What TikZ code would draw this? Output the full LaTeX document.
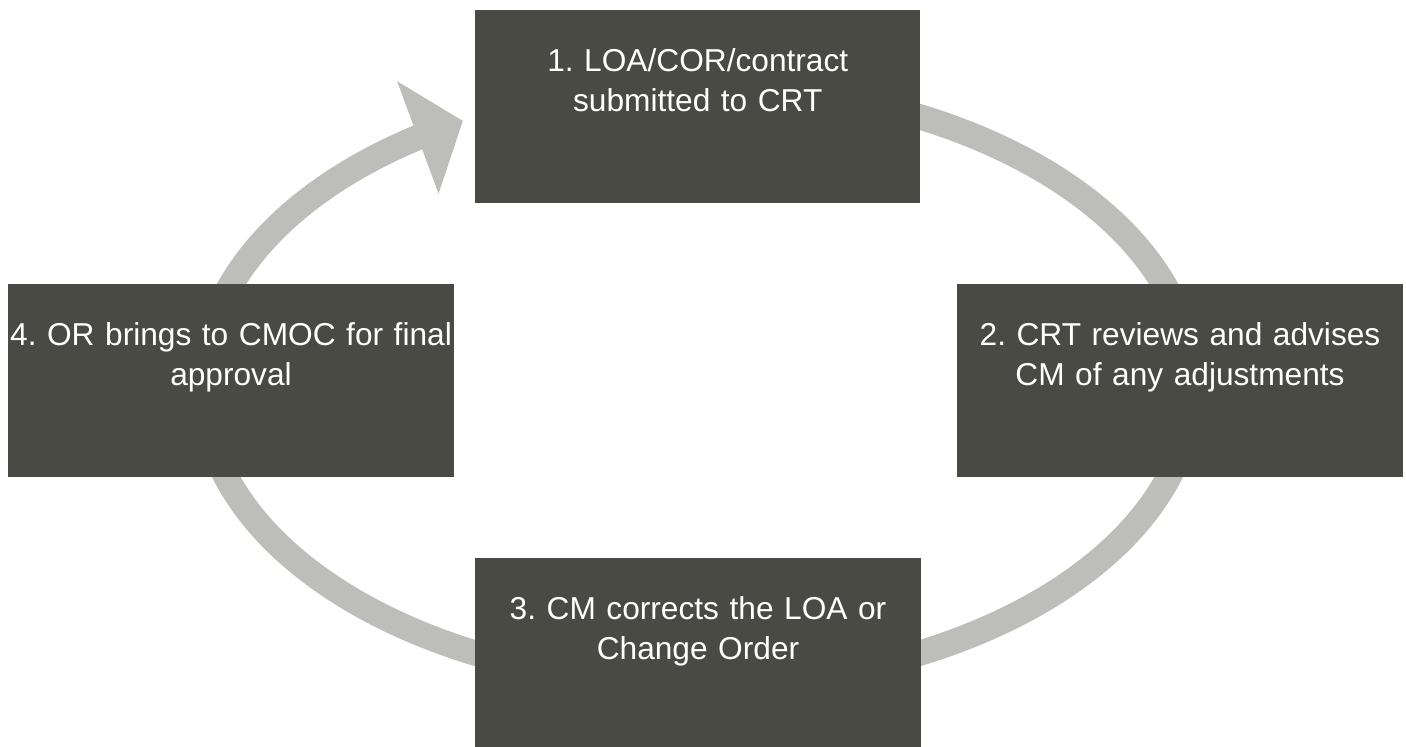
\documentclass[tikz,border=0pt]{standalone}
\usepackage{fontspec}
\setmainfont{Liberation Sans}
\usetikzlibrary{arrows.meta,bending}
\definecolor{boxgray}{RGB}{74,74,68}
\definecolor{ringgray}{RGB}{189,189,186}
\frenchspacing

\begin{document}
\begin{tikzpicture}[x=0.75pt,y=0.75pt,
  stepbox/.style={fill=boxgray,text=white,inner sep=0pt,text width=334pt,align=center,
    text height=46pt,text depth=98.75pt,font=\fontsize{23.75}{30}\selectfont},
  ring/.style={draw=ringgray,line width=19pt,-{Triangle[length=36pt,width=88pt,flex]}}]
\useasboundingbox (0,0) rectangle (1406,746);
\coordinate (hub) at (697.5,361);
\draw [ring] (hub) ++(0,300) arc [start angle=90,end angle=-241.7,x radius=495,y radius=300];
\node [stepbox] (submit) at (697.75,639.5) {1. LOA/COR/contract\\submitted to CRT};
\node [stepbox] (review) at (1180,365.5) {2. CRT reviews and advises\\CM of any adjustments};
\node [stepbox] (correct) at (698,91.5) {3. CM corrects the LOA or\\Change Order};
\node [stepbox] (approve) at (231,365.5) {4. OR brings to CMOC for final\\approval};
\end{tikzpicture}
\end{document}
